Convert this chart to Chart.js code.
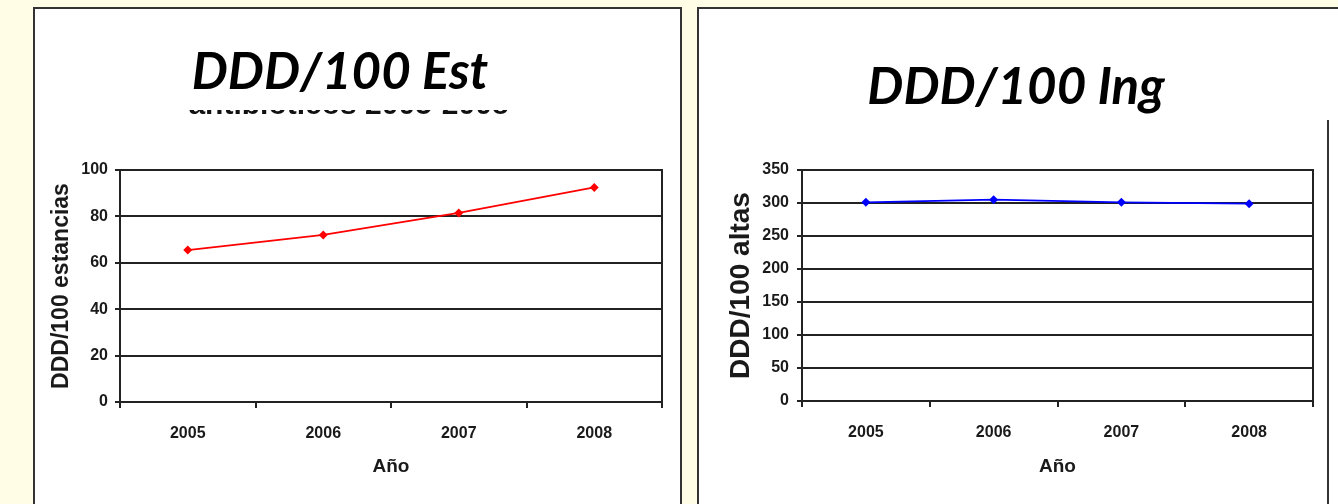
<!DOCTYPE html>
<html>
<head>
<meta charset="utf-8">
<script src="https://cdn.jsdelivr.net/npm/chart.js@4/dist/chart.umd.min.js"></script>
<style>
  html, body { margin: 0; padding: 0; }
  body { width: 1338px; height: 504px; background: #fffde6; position: relative; overflow: hidden; }
  .panel { position: absolute; top: 7px; height: 520px; background: #fff; border: 2px solid #333; box-sizing: border-box; }
  #panelEst { left: 33px; width: 649px; }
  #panelIng { left: 697px; width: 660px; }
  .cv { position: absolute; }
  .heading {
    position: absolute; background: #fff; text-align: center;
    font-family: Lato, "Open Sans", sans-serif; font-weight: 700; font-style: italic;
    font-size: 51px; color: #000; line-height: 1;
  }
  #frameIng { position: absolute; left: 1327px; top: 120px; width: 2px; height: 400px; background: #333; }
</style>
</head>
<body>
<div class="panel" id="panelEst"></div>
<div class="panel" id="panelIng"></div>
<div id="frameIng"></div>

<div class="cv" style="left:35px; top:88px; width:644px; height:416px;"><canvas id="chartEst"></canvas></div>
<div class="cv" style="left:699px; top:120px; width:626px; height:384px;"><canvas id="chartIng"></canvas></div>

<!-- cajas de titulo, tapan el titulo original del grafico -->
<div class="heading" style="left:40px; top:30px; width:600px; height:80px; padding-top:14px; box-sizing:border-box;">
  DDD/100 Est
</div>
<div class="heading" style="left:756px; top:40px; width:520px; height:80px; padding-top:19px; box-sizing:border-box;">
  DDD/100 Ing
</div>

<script>
const years = ['2005', '2006', '2007', '2008'];
const estancias = [65.5, 72, 81.5, 92.5];
const altas = [301, 305, 301, 299];

const estMax = 100, estStep = 20;
const altasMax = 350, altasStep = 50;

Chart.defaults.font.family = 'Arial, "Liberation Sans", sans-serif';
Chart.defaults.font.weight = 'bold';
Chart.defaults.color = '#1a1a1a';

const gridCol = '#222';

function makeChart(id, values, color, yMax, yStep, yLabel, opts) {
  const ctx = document.getElementById(id).getContext('2d');
  return new Chart(ctx, {
    type: 'line',
    data: {
      labels: years,
      datasets: [{
        data: values,
        borderColor: color,
        backgroundColor: color,
        borderWidth: 1.8,
        pointStyle: 'rectRot',
        pointRadius: 4.5,
        pointBorderWidth: 0,
        tension: 0
      }]
    },
    options: {
      responsive: true,
      maintainAspectRatio: false,
      animation: false,
      layout: { padding: opts.padding },
      plugins: {
        legend: { display: false },
        tooltip: { enabled: false },
        title: opts.topTitle ? {
          display: true,
          text: opts.topTitle,
          font: { size: 30, weight: 'bold' },
          color: '#111',
          padding: { top: 0, bottom: opts.topTitlePad }
        } : { display: false }
      },
      scales: {
        x: {
          offset: true,
          grid: { offset: true, drawOnChartArea: false, color: gridCol, lineWidth: 2, tickLength: 6 },
          border: { color: gridCol, width: 2 },
          ticks: { font: { size: 16 }, padding: 16, maxRotation: 0 },
          title: { display: true, text: 'Año', font: { size: 19 }, padding: 0 },
          afterFit: (scale) => { scale.height = opts.xHeight; }
        },
        y: {
          min: 0,
          max: yMax,
          ticks: { stepSize: yStep, font: { size: 16 }, padding: opts.tickPad },
          grid: { color: gridCol, lineWidth: 2, tickLength: 5 },
          border: { color: gridCol, width: 2 },
          title: { display: true, text: yLabel, font: { size: opts.yTitleSize }, padding: { top: opts.yTitlePad, bottom: 0 } },
          afterFit: (scale) => { scale.width = opts.yWidth; }
        },
        // eje derecho solo para cerrar el recuadro
        y2: {
          position: 'right',
          min: 0,
          max: yMax,
          ticks: { display: false },
          grid: { drawOnChartArea: false, drawTicks: false },
          border: { color: gridCol, width: 2 },
          afterFit: (scale) => { scale.width = 0; }
        }
      }
    }
  });
}

makeChart('chartEst', estancias, '#ff0000', estMax, estStep, 'DDD/100 estancias', {
  padding: { top: 0, left: 0, right: 17, bottom: 26 },
  topTitle: 'antibióticos 2005-2008',
  topTitlePad: 46,
  xHeight: 76,
  yWidth: 85,
  tickPad: 7,
  yTitleSize: 23,
  yTitlePad: 13
});

makeChart('chartIng', altas, '#0000ff', altasMax, altasStep, 'DDD/100 altas', {
  padding: { top: 50, left: 0, right: 12, bottom: 26 },
  xHeight: 77,
  yWidth: 103,
  tickPad: 8,
  yTitleSize: 28,
  yTitlePad: 25
});
</script>
</body>
</html>
